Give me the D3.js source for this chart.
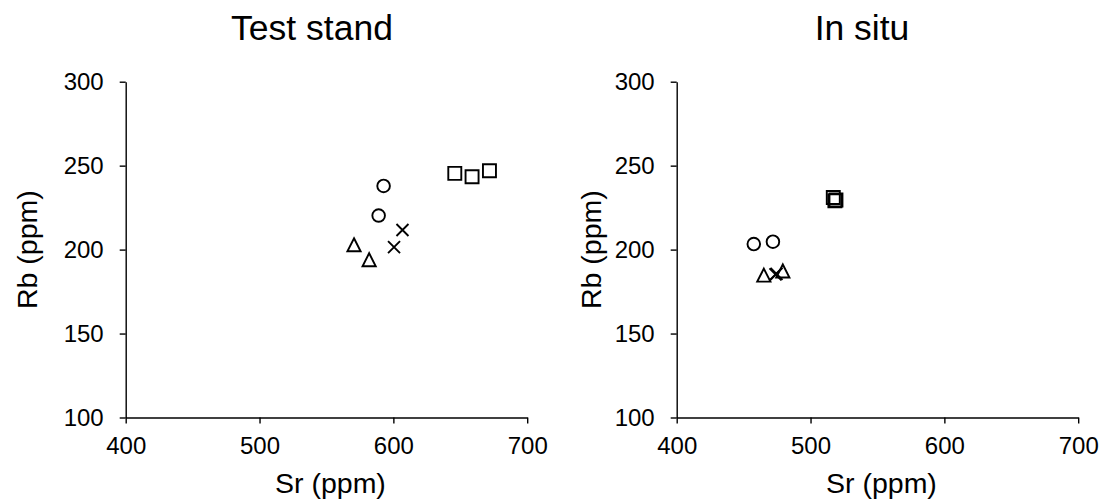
<!DOCTYPE html>
<html>
<head>
<meta charset="utf-8">
<script src="https://cdn.jsdelivr.net/npm/d3@7"></script>
<style>
  body { margin: 0; background: #fff; }
  text { font-family: "Liberation Sans", Arial, sans-serif; fill: #000; }
</style>
</head>
<body>
<div id="chart"></div>
<script>
// data: [Sr, Rb] in ppm
var panelTitles = ["Test stand", "In situ"];

var standCircles = [[592.7, 237.9], [589, 220.3]];
var standCrosses = [[606.8, 211.7], [600.5, 201.5]];
var standTriangles = [[570.6, 202.7], [581.9, 193.8]];
var standSquares = [[645.9, 245.4], [658.8, 243.4], [671.8, 247]];

var situCircles = [[457.6, 203.3], [471.9, 204.7]];
var situCrosses = [[473.8, 185.2], [474.6, 185.5]];
var situTriangles = [[465.1, 184.6], [479.3, 187.1]];
var situSquares = [[517, 231], [518.2, 229], [519, 229.5]];

var xTicks = [400, 500, 600, 700];
var yTicks = [100, 150, 200, 250, 300];

var svgWidth = 1110;
var svgHeight = 503;

var svg = d3.select("#chart")
  .append("svg")
  .attr("width", svgWidth)
  .attr("height", svgHeight);

// one entry per panel, where its plot area sits
var panels = [
  { title: panelTitles[0], left: 125.7, titleX: 312, yTitleX: 37,
    series: { circle: standCircles, cross: standCrosses, triangle: standTriangles, square: standSquares } },
  { title: panelTitles[1], left: 676.7, titleX: 862, yTitleX: 601,
    series: { circle: situCircles, cross: situCrosses, triangle: situTriangles, square: situSquares } }
];

var plotWidth = 401.5;
var plotTop = 81.7;
var plotBottom = 417.5;

function markerPath(kind) {
  var p = d3.path();
  if (kind === "circle") {
    p.moveTo(6.3, 0);
    p.arc(0, 0, 6.3, 0, 2 * Math.PI);
  } else if (kind === "square") {
    p.rect(-6.5, -6.5, 13, 13);
  } else if (kind === "triangle") {
    p.moveTo(0, -6.8);
    p.lineTo(6.6, 6.2);
    p.lineTo(-6.6, 6.2);
    p.closePath();
  } else {
    p.moveTo(-6, -6); p.lineTo(6, 6);
    p.moveTo(6, -6); p.lineTo(-6, 6);
  }
  return p.toString();
}

panels.forEach(function(panel) {
  var x = d3.scaleLinear().domain([400, 700]).range([panel.left, panel.left + plotWidth]);
  var y = d3.scaleLinear().domain([100, 300]).range([plotBottom, plotTop]);

  var yAxis = svg.append("g")
    .attr("transform", `translate(${panel.left}, 0)`)
    .call(d3.axisLeft(y).tickValues(yTicks).tickSize(6).tickSizeOuter(0).tickPadding(16));

  var xAxis = svg.append("g")
    .attr("transform", `translate(0, ${plotBottom})`)
    .call(d3.axisBottom(x).tickValues(xTicks).tickSize(6).tickSizeOuter(0).tickPadding(13.5));

  [xAxis, yAxis].forEach(function(ax) {
    ax.selectAll("path, line").attr("stroke", "#000").attr("stroke-width", 1.4);
    ax.selectAll("text").style("font-size", "24px").attr("font-family", null);
  });

  // titles
  svg.append("text")
    .attr("x", panel.titleX)
    .attr("y", 40)
    .attr("text-anchor", "middle")
    .style("font-size", "35.5px")
    .text(panel.title);

  svg.append("text")
    .attr("x", panel.left + plotWidth / 2 + 4)
    .attr("y", 493)
    .attr("text-anchor", "middle")
    .style("font-size", "28.5px")
    .text("Sr (ppm)");

  svg.append("text")
    .attr("transform", `translate(${panel.yTitleX}, ${(plotTop + plotBottom) / 2}) rotate(-90)`)
    .attr("text-anchor", "middle")
    .style("font-size", "28.5px")
    .text("Rb (ppm)");

  // markers
  Object.keys(panel.series).forEach(function(kind) {
    svg.append("g")
      .selectAll("path")
      .data(panel.series[kind])
      .enter()
      .append("path")
      .attr("transform", d => `translate(${x(d[0])}, ${y(d[1])})`)
      .attr("d", markerPath(kind))
      .attr("fill", "none")
      .attr("stroke", "#000")
      .attr("stroke-width", 1.9);
  });
});
</script>
</body>
</html>
